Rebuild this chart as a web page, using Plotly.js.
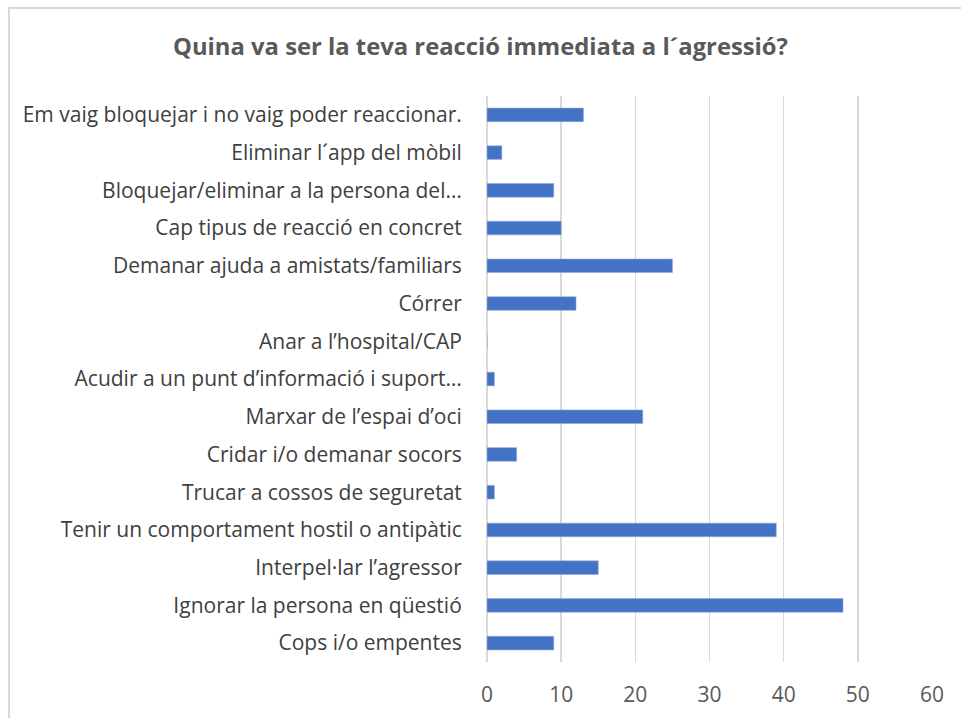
<!DOCTYPE html>
<html>
<head>
<meta charset="utf-8">
<script src="https://cdn.plot.ly/plotly-3.0.1.min.js"></script>
<style>
  body { margin: 0; background: #fff; overflow: hidden; }
  #chart { width: 961px; height: 718px; }
  #frame { position: absolute; left: 8px; top: 7px; width: 960px; height: 720px; border-left: 2px solid #d9d9d9; border-top: 2px solid #d9d9d9; pointer-events: none; }
</style>
</head>
<body>
<div id="chart"></div>
<div id="frame"></div>
<script>
// categories from top to bottom, as in the picture
var reaccions = [
    "Em vaig bloquejar i no vaig poder reaccionar.",
    "Eliminar l´app del mòbil",
    "Bloquejar/eliminar a la persona del…",
    "Cap tipus de reacció en concret",
    "Demanar ajuda a amistats/familiars",
    "Córrer",
    "Anar a l’hospital/CAP",
    "Acudir a un punt d’informació i suport…",
    "Marxar de l’espai d’oci",
    "Cridar i/o demanar socors",
    "Trucar a cossos de seguretat",
    "Tenir un comportament hostil o antipàtic",
    "Interpel·lar l’agressor",
    "Ignorar la persona en qüestió",
    "Cops i/o empentes"
];
var respostes = [13, 2, 9, 10, 25, 12, 0, 1, 21, 4, 1, 39, 15, 48, 9];
var xticks = [0, 10, 20, 30, 40, 50, 60];

var trace1 = {
    x: respostes,
    y: reaccions,
    type: 'bar',
    orientation: 'h',
    marker: { color: '#4472c4', line: { color: '#8faadc', width: 0.6 } },
    hoverinfo: 'x+y'
};

var layout = {
    width: 961,
    height: 718,
    margin: { l: 487, r: 29, t: 96, b: 56 },
    paper_bgcolor: '#ffffff',
    plot_bgcolor: '#ffffff',
    font: { family: 'Open Sans, sans-serif', color: '#404040', size: 21 },
    title: {
        text: '<b>Quina va ser la teva reacció immediata a l´agressió?</b>',
        font: { size: 23.8, color: '#595959', family: 'Open Sans, sans-serif' },
        x: 0.5,
        xanchor: 'center',
        y: 0.935,
        yanchor: 'middle'
    },
    bargap: 0.64,
    showlegend: false,
    xaxis: {
        range: [0, 60],
        tickvals: xticks,
        showgrid: true,
        gridcolor: '#d9d9d9',
        gridwidth: 1.5,
        zeroline: true,
        zerolinecolor: '#d9d9d9',
        zerolinewidth: 1.5,
        tickfont: { size: 21, color: '#595959' },
        ticks: 'outside',
        ticklen: 14,
        tickcolor: 'rgba(0,0,0,0)',
        fixedrange: true
    },
    yaxis: {
        categoryorder: 'array',
        categoryarray: reaccions.slice().reverse(),
        autorange: true,
        showgrid: false,
        ticks: 'outside',
        ticklen: 20,
        tickcolor: 'rgba(0,0,0,0)',
        tickfont: { size: 21, color: '#404040' },
        fixedrange: true
    }
};

var config = { displayModeBar: false, staticPlot: true };

Plotly.newPlot('chart', [trace1], layout, config);
</script>
</body>
</html>
